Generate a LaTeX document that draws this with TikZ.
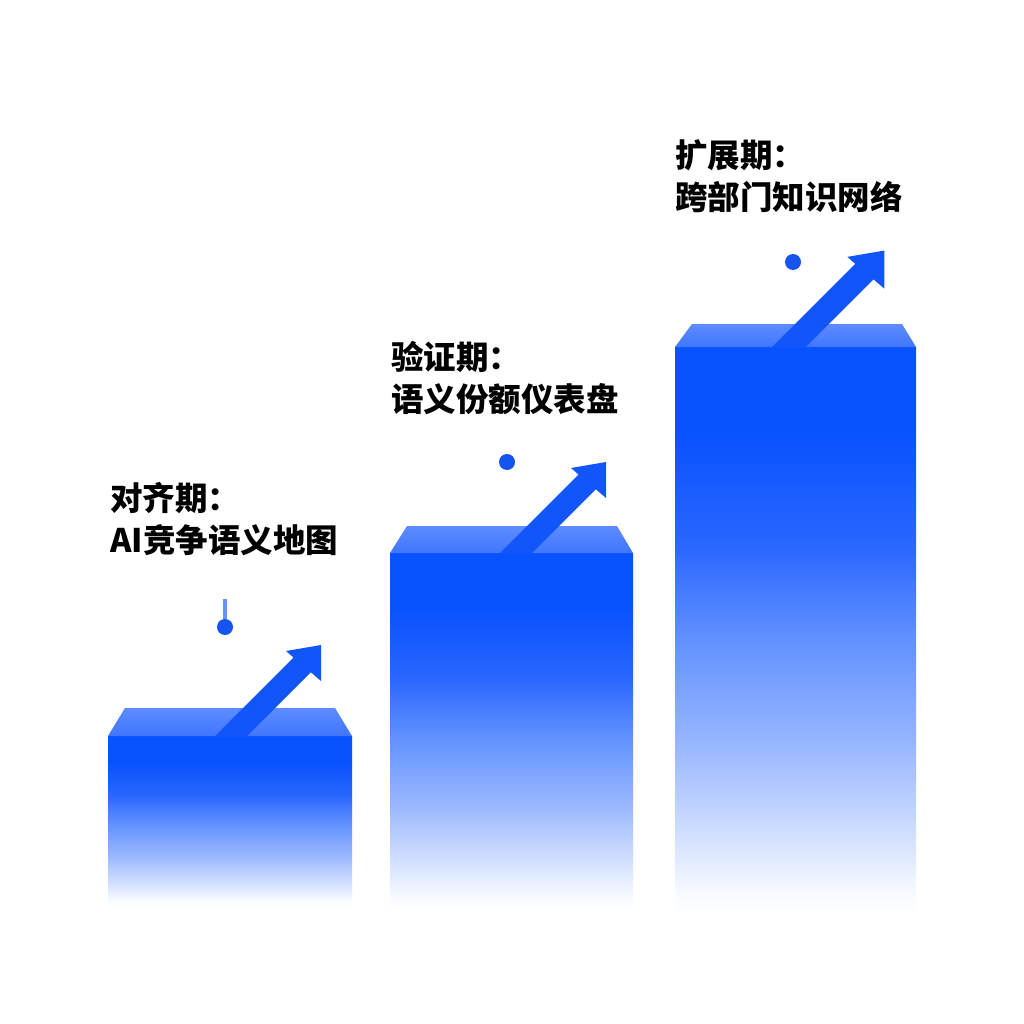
\documentclass[tikz,border=0pt]{standalone}
\usepackage{fontspec}
\newfontfamily\cjk{Noto Sans CJK SC}
\definecolor{bblue}{RGB}{8,82,255}
\definecolor{topface}{RGB}{64,118,255}
\definecolor{topback}{RGB}{92,140,255}
\definecolor{arrowblue}{RGB}{18,86,250}
\definecolor{dotblue}{RGB}{22,84,240}
\definecolor{tickblue}{RGB}{100,145,250}
\definecolor{f5}{RGB}{246,249,255}
\definecolor{f15}{RGB}{205,220,255}
\definecolor{f30}{RGB}{152,182,255}
\definecolor{f48}{RGB}{98,146,255}
\definecolor{f65}{RGB}{42,102,255}
\pgfdeclareverticalshading{barfade}{100bp}{color(0bp)=(white); color(25bp)=(white); color(27bp)=(f5); color(32.5bp)=(f15); color(40bp)=(f30); color(49bp)=(f48); color(57.5bp)=(f65); color(67.5bp)=(bblue); color(100bp)=(bblue)}
\pgfdeclareverticalshading{topfade}{100bp}{color(0bp)=(topface); color(25bp)=(topface); color(75bp)=(topback); color(100bp)=(topback)}
\tikzset{
  front/.style={shading=barfade},
  topside/.style={shading=topfade},
  uparrow/.style={fill=arrowblue},
  dotmark/.style={circle, fill=dotblue, inner sep=0pt, minimum size=16pt},
  label/.style={font=\cjk\bfseries\fontsize{32.5}{42}\selectfont, align=left, anchor=base west, inner sep=0pt, text=black}
}
\newcommand{\arrowpath}{(0,0) -- (78.5,-78.5) -- (71,-85) -- (106,-91) -- (106,-55) -- (95.8,-63.8) -- (32,0) -- cycle}
\begin{document}
\begin{tikzpicture}[x=1pt,y=-1pt]
\useasboundingbox (0,0) rectangle (1024,1024);
\fill[white] (0,0) rectangle (1024,1024);
% bar 1
\path[front] (108,736) rectangle (352,906);
\path[topside] (108,736) -- (125,708) -- (335,708) -- (352,736) -- cycle;
\begin{scope}[shift={(215,736)}]
  \fill[uparrow] \arrowpath;
\end{scope}
% bar 2
\path[front] (390,553) rectangle (633,910);
\path[topside] (390,553) -- (407,526) -- (617,526) -- (633,553) -- cycle;
\begin{scope}[shift={(500,553)}]
  \fill[uparrow] \arrowpath;
\end{scope}
% bar 3
\path[front] (675,347) rectangle (916,914);
\path[topside] (675,347) -- (692,324) -- (902,324) -- (916,347) -- cycle;
\begin{scope}[shift={(772,347)}, scale=1.06]
  \fill[uparrow] \arrowpath;
\end{scope}
% dots
\draw[tickblue, line width=3.5pt] (225,599) -- (225,620);
\node[dotmark] (d1) at (225,627) {};
\node[dotmark] (d2) at (507,462) {};
\node[dotmark] (d3) at (793,262) {};
% labels (anchor at baseline of the second line)
\node[label] (t1) at (110,552) {对齐期：\\AI竞争语义地图};
\node[label] (t2) at (391,411) {验证期：\\语义份额仪表盘};
\node[label] (t3) at (675,210) {扩展期：\\跨部门知识网络};
\end{tikzpicture}
\end{document}
